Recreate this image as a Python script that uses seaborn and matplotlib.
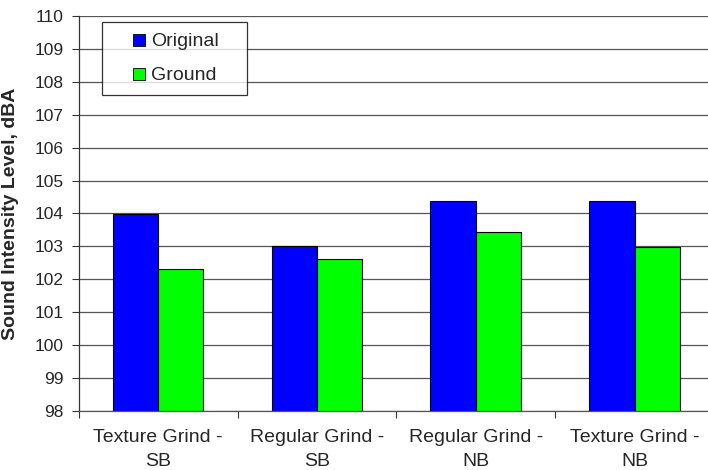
import pandas as pd
import numpy as np
import matplotlib.pyplot as plt
import seaborn as sns
from matplotlib.lines import Line2D

# Données
categories = ['Texture Grind -\nSB', 'Regular Grind -\nSB', 'Regular Grind -\nNB', 'Texture Grind -\nNB']
original = [103.98, 103.0, 104.38, 104.38]
ground = [102.3, 102.62, 103.43, 102.98]
series = ['Original', 'Ground']
colors = ['#0000FF', '#00FF00']

df = pd.DataFrame({
    'categorie': categories * 2,
    'serie': [series[0]] * 4 + [series[1]] * 4,
    'valeur': original + ground,
})

sns.set_style('white')
plt.rcParams['font.family'] = ['Liberation Sans', 'DejaVu Sans']

fig = plt.figure(figsize=(7.08, 4.70), dpi=100)
ax = fig.add_axes([78.7 / 708, 59 / 470, 635.3 / 708, 395 / 470])

sns.barplot(data=df, x='categorie', y='valeur', hue='serie', palette=colors,
            saturation=1, width=0.571, gap=0, edgecolor='black', linewidth=0.8,
            ax=ax, legend=False)

# Axe Y
ax.set_ylim(98, 110)
ax.set_yticks(np.arange(98, 111, 1))
ax.yaxis.grid(True, color='#555555', linewidth=0.9)
ax.set_axisbelow(True)
ax.set_ylabel('Sound Intensity Level, dBA', fontsize=14, fontweight='bold', labelpad=11)
ax.tick_params(axis='y', which='major', direction='out', length=5, width=0.8,
               color='#333333', labelsize=12.5, pad=6, left=True)

# Axe X : ticks entre les catégories
ax.set_xlim(-0.5, 3.5)
ax.set_xlabel('')
ax.set_xticks(range(len(categories)))
ax.set_xticklabels(categories, fontsize=14, linespacing=1.5)
ax.set_xticks(np.arange(-0.5, 4.0, 1.0), minor=True)
ax.tick_params(axis='x', which='major', length=0, pad=13)
ax.tick_params(axis='x', which='minor', direction='out', length=5, width=0.8,
               color='#333333', bottom=True)

for s in ['top', 'right']:
    ax.spines[s].set_visible(False)
ax.spines['left'].set_color('#333333')
ax.spines['bottom'].set_color('#555555')
ax.spines['left'].set_linewidth(0.9)
ax.spines['bottom'].set_linewidth(0.9)

# Légende
handles = [Line2D([], [], marker='s', linestyle='none', markersize=8.6,
                  markerfacecolor=c, markeredgecolor='black', markeredgewidth=0.6)
           for c in colors]
leg = ax.legend(handles, series, loc='upper left',
                bbox_to_anchor=(0.0367, 0.8025, 0.228, 0.1823), mode='expand',
                borderaxespad=0, fontsize=14, frameon=True, fancybox=False,
                edgecolor='black', borderpad=0.55, labelspacing=0.85,
                handlelength=2.71, handletextpad=-0.74)
leg.get_frame().set_linewidth(0.9)

plt.savefig('out.png', dpi=100)
